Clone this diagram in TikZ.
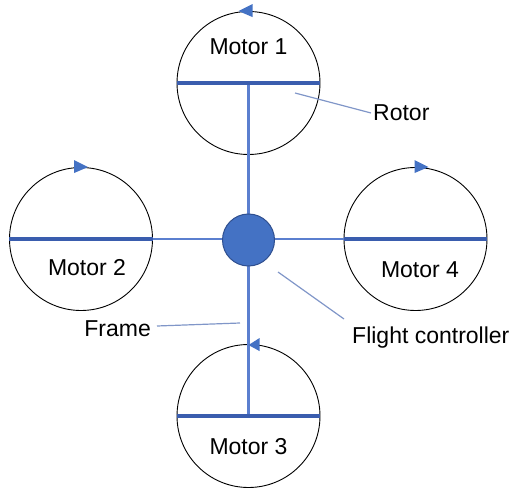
\documentclass[tikz,border=0pt]{standalone}
\usepackage{fontspec}
\setmainfont{Liberation Sans}
\usetikzlibrary{calc}
\definecolor{barblue}{HTML}{3A5DAE}
\definecolor{frameblue}{HTML}{5B7FCF}
\definecolor{fcblue}{HTML}{4472C4}
\definecolor{fcedge}{HTML}{2F4F8F}
\definecolor{leadblue}{HTML}{8096C8}
\tikzset{
  motor/.style={circle, draw=black, line width=0.9pt, minimum size=143pt, inner sep=0pt},
  rotorbar/.style={draw=barblue, line width=4.5pt},
  frameline/.style={draw=frameblue, line width=2.2pt},
  leader/.style={draw=leadblue, line width=1.2pt},
  lbl/.style={font=\fontsize{23}{26}\selectfont, inner sep=0pt},
  spin/.style={fill=fcblue},
}
\begin{document}
\begin{tikzpicture}[x=1pt, y=-1pt]
\useasboundingbox (0,0) rectangle (514,489);

% motor housings
\node[motor] (m1) at (248.5, 83) {};
\node[motor] (m2) at (81, 239) {};
\node[motor] (m4) at (415.5, 239) {};
\node[motor] (m3) at (248.5, 416) {};

% frame arms
\draw[frameline] (m1.center) -- (m3.center);
\draw[frameline] (m2.center) -- (m4.center);

% rotor blades
\draw[rotorbar] (m1.west) -- (m1.east);
\draw[rotorbar] (m2.west) -- (m2.east);
\draw[rotorbar] (m4.west) -- (m4.east);
\draw[rotorbar] (m3.west) -- (m3.east);

% flight controller
\node[circle, fill=fcblue, draw=fcedge, line width=1pt, minimum size=52pt, inner sep=0pt] (fc) at (248.5, 240) {};

% spin direction markers
\fill[spin] ($(m1.north)+(-10,0)$) -- ++(14,-7) -- ++(0,13) -- cycle;
\fill[spin] ($(m2.north)+(7,0)$) -- ++(-14,-7) -- ++(0,13) -- cycle;
\fill[spin] ($(m4.north)+(13,0)$) -- ++(-14,-7) -- ++(0,13) -- cycle;
\fill[spin] ($(m3.north)+(0,1)$) -- ++(11,-7) -- ++(0,13) -- cycle;

% motor labels
\node[lbl] (t1) at (248.5, 47) {Motor 1};
\node[lbl] (t2) at (87, 268) {Motor 2};
\node[lbl] (t4) at (420, 270) {Motor 4};
\node[lbl] (t3) at (248.5, 447) {Motor 3};

% callouts
\node[lbl, anchor=west] (rotor) at (373, 113) {Rotor};
\node[lbl, anchor=east] (frame) at (151, 329) {Frame};
\node[lbl, anchor=west] (flight) at (352, 338) {Flight controller};

\coordinate (rp) at (295, 93);
\coordinate (fp) at (240, 323);
\coordinate (cp) at (278, 272);
\draw[leader] (rp) -- ($(rotor.west)+(-2,0)$);
\draw[leader] ($(frame.east)+(6,-3)$) -- (fp);
\draw[leader] (cp) -- (344, 319);
\end{tikzpicture}
\end{document}
